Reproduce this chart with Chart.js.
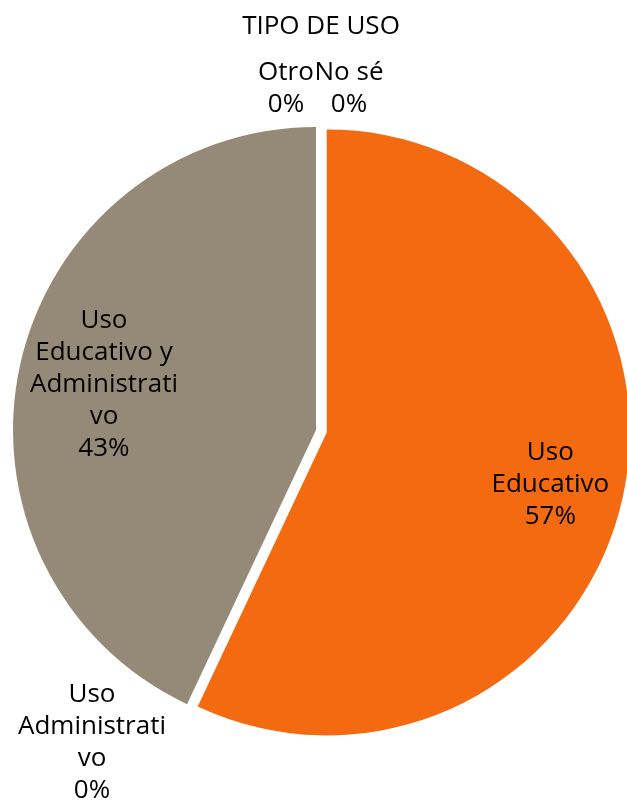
<!DOCTYPE html>
<html><head><meta charset="utf-8">
<script src="https://cdn.jsdelivr.net/npm/chart.js@4/dist/chart.umd.min.js"></script>
<style>html,body{margin:0;padding:0;background:#fff;}#wrap{width:627px;height:802px;}</style>
</head><body><div id="wrap"><canvas id="c" width="627" height="802"></canvas></div>
<script>
const chartTitle = 'TIPO DE USO';
const categories = ['Uso Educativo', 'Uso Administrativo', 'Uso Educativo y Administrativo', 'Otro', 'No sé'];
const values = [57, 0, 43, 0, 0];
const labelLines = [['Uso', 'Educativo'], ['Uso', 'Administrati', 'vo'], ['Uso', 'Educativo y', 'Administrati', 'vo'], ['Otro'], ['No sé']];
const sliceColors = ['#F36A10', '#A5A5A5', '#958A77', '#FFC000', '#5B9BD5'];

const FONT_PX = 26;
const FONT = FONT_PX + 'px "Open Sans"';
const LINE_H = 32;
const CAP = 0.714 * FONT_PX;
const explode = [11, 0, 0, 0, 0];
const insideFrac = [0.756, 0, 0.717, 0, 0];
const outsideNudge = {1: [-95, 37], 3: [-30, -40.5], 4: [33, -40.5]};

const total = values.reduce((a, b) => a + b, 0);

const explodePlugin = {
  id: 'explode',
  afterDatasetUpdate(chart, args) {
    const meta = chart.getDatasetMeta(args.index);
    meta.data.forEach((el, i) => {
      const d = explode[i] || 0;
      if (!d) return;
      const a = (el.startAngle + el.endAngle) / 2;
      el.x += Math.cos(a) * d;
      el.y += Math.sin(a) * d;
    });
  }
};

function drawBlock(ctx, lines, cx, cy) {
  const n = lines.length;
  lines.forEach((t, k) => {
    const capCenter = cy + (k - (n - 1) / 2) * LINE_H;
    ctx.fillText(t, cx, capCenter + CAP / 2);
  });
}

const labelPlugin = {
  id: 'sliceLabels',
  afterDraw(chart) {
    const ctx = chart.ctx;
    ctx.save();
    ctx.font = FONT;
    ctx.fillStyle = '#000';
    ctx.textAlign = 'center';
    ctx.textBaseline = 'alphabetic';
    ctx.fillText(chartTitle, 321, 25 + CAP / 2);
    const meta = chart.getDatasetMeta(0);
    meta.data.forEach((el, i) => {
      const a = (el.startAngle + el.endAngle) / 2;
      const r = el.outerRadius;
      const pct = Math.round(values[i] / total * 100) + '%';
      const lines = labelLines[i].concat([pct]);
      let x, y;
      if (values[i] > 0) {
        x = el.x + Math.cos(a) * r * insideFrac[i];
        y = el.y + Math.sin(a) * r * insideFrac[i];
      } else {
        const nudge = outsideNudge[i] || [0, 0];
        x = el.x + Math.cos(a) * r + nudge[0];
        y = el.y + Math.sin(a) * r + nudge[1];
      }
      drawBlock(ctx, lines, x, y);
    });
    ctx.restore();
  }
};

new Chart(document.getElementById('c'), {
  type: 'pie',
  data: {
    labels: categories,
    datasets: [{
      data: values,
      backgroundColor: sliceColors,
      borderWidth: 0
    }]
  },
  options: {
    responsive: false,
    animation: false,
    events: [],
    radius: 303,
    layout: {padding: {top: 58, bottom: 0, left: 5, right: 0}},
    plugins: {
      legend: {display: false},
      title: {display: false},
      tooltip: {enabled: false}
    }
  },
  plugins: [explodePlugin, labelPlugin]
});
</script>
</body></html>
